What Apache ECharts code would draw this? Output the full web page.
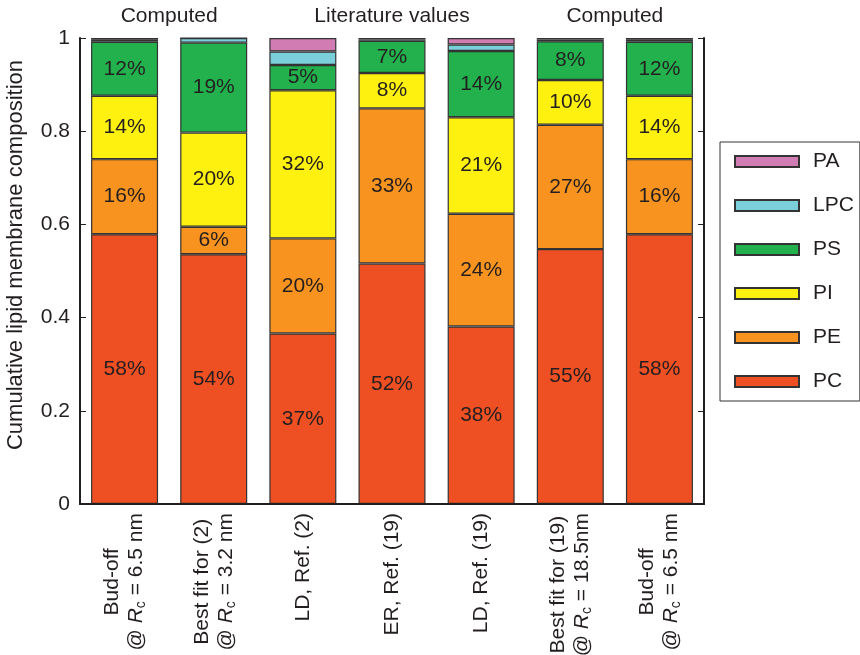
<!DOCTYPE html>
<html>
<head>
<meta charset="utf-8">
<script src="https://cdn.jsdelivr.net/npm/echarts@6/dist/echarts.min.js"></script>
<style>
  html, body { margin: 0; padding: 0; background: #fff; }
  #chart { width: 860px; height: 655px; }
</style>
</head>
<body>
<div id="chart"></div>
<script>
// Membrane compositions (fraction of total lipid), one entry per bar
const categories = [
  'Bud-off\n@ Rc = 6.5 nm',
  'Best fit for (2)\n@ Rc = 3.2 nm',
  'LD, Ref. (2)',
  'ER, Ref. (19)',
  'LD, Ref. (19)',
  'Best fit for (19)\n@ Rc = 18.5nm',
  'Bud-off\n@ Rc = 6.5 nm'
];
const PC  = [0.579, 0.536, 0.366, 0.516, 0.381, 0.547, 0.579];
const PE  = [0.161, 0.059, 0.204, 0.333, 0.242, 0.267, 0.161];
const PI  = [0.136, 0.202, 0.318, 0.076, 0.207, 0.096, 0.136];
const PS  = [0.116, 0.193, 0.054, 0.069, 0.142, 0.083, 0.116];
const LPC = [0.004, 0.010, 0.029, 0.003, 0.014, 0.004, 0.004];
const PA  = [0.004, 0.000, 0.029, 0.003, 0.014, 0.003, 0.004];

const yTicks = [0, 0.2, 0.4, 0.6, 0.8, 1];
const yTitle = 'Cumulative lipid membrane composition';

// Group headings above the bars: text with first and last bar index
const groupNames = ['Computed', 'Literature values', 'Computed'];
const groupSpans = [[0, 1], [2, 4], [5, 6]];

const FONT = "'Liberation Sans', Arial, Helvetica, sans-serif";
const FS = 21;
const INK = '#231f20';
const EDGE = '#333333';

const lipids = [
  { name: 'PC',  data: PC,  color: '#ef5023', label: true },
  { name: 'PE',  data: PE,  color: '#f7931e', label: true },
  { name: 'PI',  data: PI,  color: '#fff10f', label: true },
  { name: 'PS',  data: PS,  color: '#22b14c', label: true },
  { name: 'LPC', data: LPC, color: '#7bcfda', label: false },
  { name: 'PA',  data: PA,  color: '#d27cb4', label: false }
];

// "Rc" is written as italic R with subscript c
function axisRich(value) {
  return value.split('\n').map(function (line) {
    const parts = line.split('Rc');
    if (parts.length === 1) return '{n|' + line + '}';
    return '{n|' + parts[0] + '}{i|R}{s|c}{n|' + parts[1] + '}';
  }).join('\n');
}

const chart = echarts.init(document.getElementById('chart'), null, { renderer: 'canvas' });

const option = {
  backgroundColor: '#fff',
  animation: false,
  textStyle: { fontFamily: FONT },
  grid: { left: 80, right: 156, top: 38, bottom: 151, containLabel: false, outerBoundsMode: 'none' },
  legend: {
    orient: 'vertical',
    left: 720,
    top: 142,
    data: ['PA', 'LPC', 'PS', 'PI', 'PE', 'PC'],
    itemWidth: 64,
    itemHeight: 11,
    itemGap: 23,
    padding: [9, 6, 9, 14],
    borderColor: EDGE,
    borderWidth: 1,
    icon: 'rect',
    textStyle: { fontSize: FS, color: INK, fontFamily: FONT, padding: [0, 0, 0, 9] }
  },
  xAxis: [
    {
      type: 'category',
      data: categories,
      position: 'bottom',
      z: 10,
      axisLine: { lineStyle: { color: INK, width: 2 } },
      axisTick: { show: false },
      axisLabel: {
        interval: 0,
        rotate: 90,
        margin: 9,
        formatter: axisRich,
        rich: {
          n: { fontSize: FS, fontFamily: FONT, color: INK, align: 'center', lineHeight: 24 },
          i: { fontSize: FS, fontFamily: FONT, color: INK, fontStyle: 'italic', align: 'center', lineHeight: 24 },
          s: { fontSize: 14, fontFamily: FONT, color: INK, align: 'center', verticalAlign: 'bottom', lineHeight: 24 }
        }
      }
    },
    {
      type: 'category',
      data: categories,
      position: 'top',
      z: 10,
      axisLine: { lineStyle: { color: INK, width: 2 } },
      axisTick: { show: false },
      axisLabel: { show: false }
    }
  ],
  yAxis: [
    {
      type: 'value',
      min: yTicks[0],
      max: yTicks[yTicks.length - 1],
      interval: yTicks[1] - yTicks[0],
      position: 'left',
      z: 10,
      axisLine: { show: true, lineStyle: { color: INK, width: 2 } },
      axisTick: { show: true, inside: true, length: 6, lineStyle: { color: INK, width: 1 } },
      axisLabel: { fontSize: FS, color: INK, margin: 10, fontFamily: FONT },
      splitLine: { show: false }
    },
    {
      type: 'value',
      min: yTicks[0],
      max: yTicks[yTicks.length - 1],
      interval: yTicks[1] - yTicks[0],
      position: 'right',
      z: 10,
      axisLine: { show: true, lineStyle: { color: INK, width: 2 } },
      axisTick: { show: true, inside: true, length: 6, lineStyle: { color: INK, width: 1 } },
      axisLabel: { show: false },
      splitLine: { show: false }
    }
  ],
  series: lipids.map(function (l) {
    return {
      name: l.name,
      type: 'bar',
      stack: 'total',
      barWidth: 67,
      data: l.data,
      itemStyle: { color: l.color, borderColor: EDGE, borderWidth: 1.2 },
      label: {
        show: l.label,
        position: 'inside',
        fontSize: FS,
        fontFamily: FONT,
        color: INK,
        formatter: function (p) { return Math.round(p.value * 100) + '%'; }
      },
      emphasis: { disabled: true }
    };
  })
};

chart.setOption(option);

// Headings centred over their groups of bars, plus the rotated y-axis title
const graphics = groupNames.map(function (name, k) {
  const a = chart.convertToPixel({ xAxisIndex: 0 }, groupSpans[k][0]);
  const b = chart.convertToPixel({ xAxisIndex: 0 }, groupSpans[k][1]);
  return {
    type: 'text',
    x: (a + b) / 2,
    y: 16,
    style: {
      text: name,
      font: FS + 'px ' + FONT,
      fill: INK,
      align: 'center',
      verticalAlign: 'middle'
    }
  };
});
graphics.push({
  type: 'text',
  x: 16,
  y: 255,
  rotation: Math.PI / 2,
  style: {
    text: yTitle,
    font: '22px ' + FONT,
    fill: INK,
    align: 'center',
    verticalAlign: 'middle'
  }
});
chart.setOption({ graphic: graphics });
</script>
</body>
</html>
